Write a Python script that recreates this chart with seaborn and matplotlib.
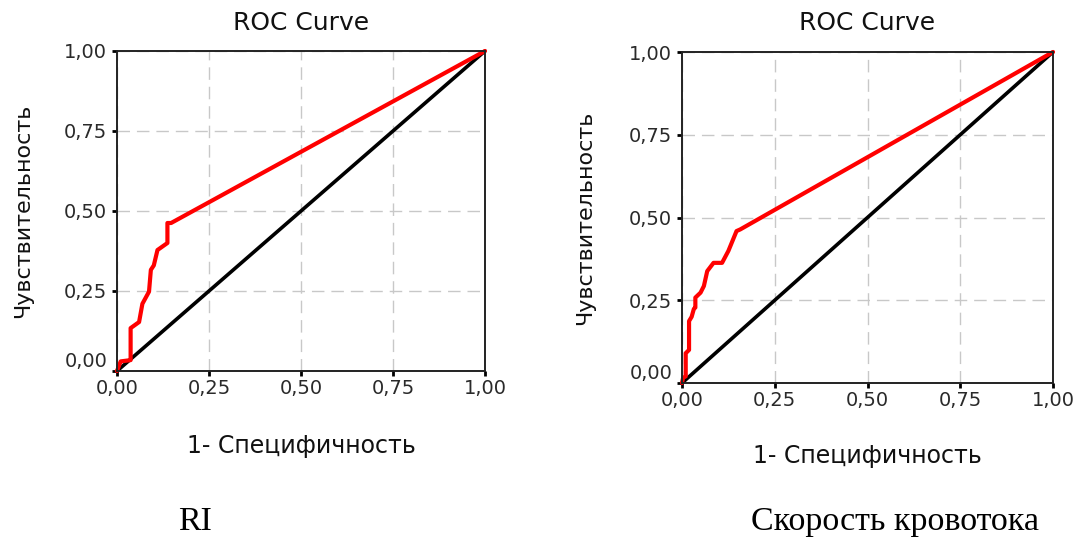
import numpy as np
import pandas as pd
import seaborn as sns
from matplotlib import pyplot as plt

# ROC points
ri_fpr = [0.0, 0.01, 0.037, 0.037, 0.06, 0.069, 0.087, 0.092, 0.10, 0.11, 0.137, 0.137, 0.147, 1.0]
ri_tpr = [0.0, 0.03, 0.034, 0.134, 0.153, 0.21, 0.248, 0.316, 0.33, 0.378, 0.40, 0.4625, 0.4625, 1.0]

flow_fpr = [0.0, 0.003, 0.01, 0.01, 0.019, 0.019, 0.026, 0.032, 0.036, 0.036, 0.05, 0.059,
            0.068, 0.085, 0.108, 0.125, 0.147, 0.157, 1.0]
flow_tpr = [0.0, 0.016, 0.02, 0.09, 0.10, 0.187, 0.20, 0.224, 0.228, 0.258, 0.273, 0.293,
            0.338, 0.363, 0.363, 0.399, 0.459, 0.464, 1.0]

ref_line = [0.0, 1.0]
ticks = [0.0, 0.25, 0.5, 0.75, 1.0]
tick_labels = ["0,00", "0,25", "0,50", "0,75", "1,00"]

title = "ROC Curve"
xlabel = "1- Специфичность"
ylabel = "Чувствительность"
captions = ["RI", "Скорость кровотока"]

sns.set_style("white")
plt.rcParams["font.family"] = ["DejaVu Sans"]

fig = plt.figure(figsize=(10.86, 5.37), dpi=100)
ax_l = fig.add_axes([117 / 1086, 1 - 371 / 537, 368 / 1086, 320 / 537])
ax_r = fig.add_axes([682 / 1086, 1 - 383 / 537, 371 / 1086, 331 / 537])

panels = [
    (ax_l, ri_fpr, ri_tpr, -0.234, -0.255, 21),
    (ax_r, flow_fpr, flow_tpr, -0.2205, -0.261, 22),
]

for ax, fpr, tpr, xl_y, yl_x, tpad in panels:
    ax.set_xlim(0, 1)
    ax.set_ylim(0, 1)
    ax.set_xticks(ticks, tick_labels)
    ax.set_yticks(ticks, tick_labels)
    ax.grid(True, color="#c8c8c8", lw=1, linestyle=(0, (9, 5)))
    ax.set_axisbelow(True)

    sns.lineplot(x=ref_line, y=ref_line, color="black", lw=2.6, ax=ax,
                 estimator=None, sort=False, clip_on=False)
    sns.lineplot(x=fpr, y=tpr, color="#ff0000", lw=3, ax=ax,
                 estimator=None, sort=False, clip_on=False)

    for s in ax.spines.values():
        s.set_color("#222222")
        s.set_linewidth(1.4)
        s.set_visible(True)

    ax.tick_params(axis="both", direction="out", length=3.5, width=2, color="black",
                   labelsize=14, labelcolor="#2a2a2a", left=True, bottom=True)
    ax.tick_params(axis="y", pad=3.5)
    ax.tick_params(axis="x", pad=2)
    ax.get_yticklabels()[0].set_va("bottom")

    ax.set_title(title, fontsize=18, pad=tpad * 0.72, color="#111111")
    ax.set_xlabel(xlabel, fontsize=17, color="#111111")
    ax.set_ylabel(ylabel, fontsize=16, color="#111111")
    ax.xaxis.set_label_coords(0.5, xl_y)
    ax.xaxis.label.set_va("center")
    ax.yaxis.set_label_coords(yl_x, 0.5)
    ax.yaxis.label.set_va("center")

fig.text(195 / 1086, 7 / 537, captions[0], ha="center", va="baseline",
         family="Liberation Serif", fontsize=24.5, color="black")
fig.text(895 / 1086, 7 / 537, captions[1], ha="center", va="baseline",
         family="Liberation Serif", fontsize=24.5, color="black")

fig.savefig("out.png", dpi=100)
